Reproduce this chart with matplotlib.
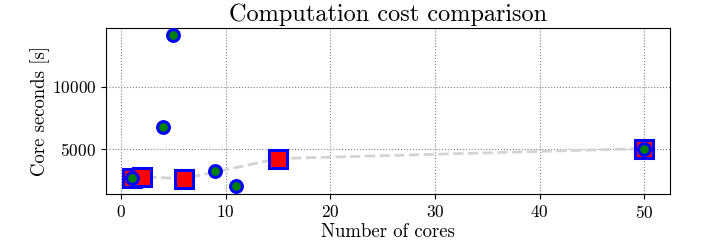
import numpy as np
import matplotlib
matplotlib.use("Agg")
import matplotlib.pyplot as plt

plt.rcParams['font.family'] = 'serif'
plt.rcParams['font.serif'] = ['cmr10']
plt.rcParams['mathtext.fontset'] = 'cm'
plt.rcParams['axes.formatter.use_mathtext'] = True

#### runs shown as red squares (joined by the dashed line)
cores_sq = [1, 2, 6, 15, 50]
cost_sq = [2640, 2720, 2560, 4190, 5000]

#### runs shown as green circles
cores_ci = [1, 4, 5, 9, 11, 50]
cost_ci = [2600, 6750, 14150, 3150, 1940, 5000]

fig, ax = plt.subplots(figsize=(7.06, 2.43), dpi=100)
fig.subplots_adjust(left=0.150, right=0.949, bottom=0.202, top=0.885)

ax.plot(cores_sq, cost_sq, '--', color='lightgray', lw=2, zorder=2)
ax.plot(cores_sq, cost_sq, 's', ls='none', ms=13, mfc='red', mec='blue',
        mew=2.2, zorder=3)
ax.plot(cores_ci, cost_ci, 'o', ls='none', ms=8.5, mfc='green', mec='blue',
        mew=2.2, zorder=4)

ax.grid(True, ls=':', color='gray', lw=0.8)
ax.set_xticks([0, 10, 20, 30, 40, 50])
ax.set_yticks([5000, 10000])
ax.tick_params(labelsize=12.5)
ax.set_xlabel('Number of cores', fontsize=13.5, labelpad=2)
ax.set_ylabel('Core seconds [s]', fontsize=13.5, labelpad=1)
ax.set_title('Computation cost comparison', fontsize=17.5, pad=5)

fig.savefig('out.png', dpi=100)
